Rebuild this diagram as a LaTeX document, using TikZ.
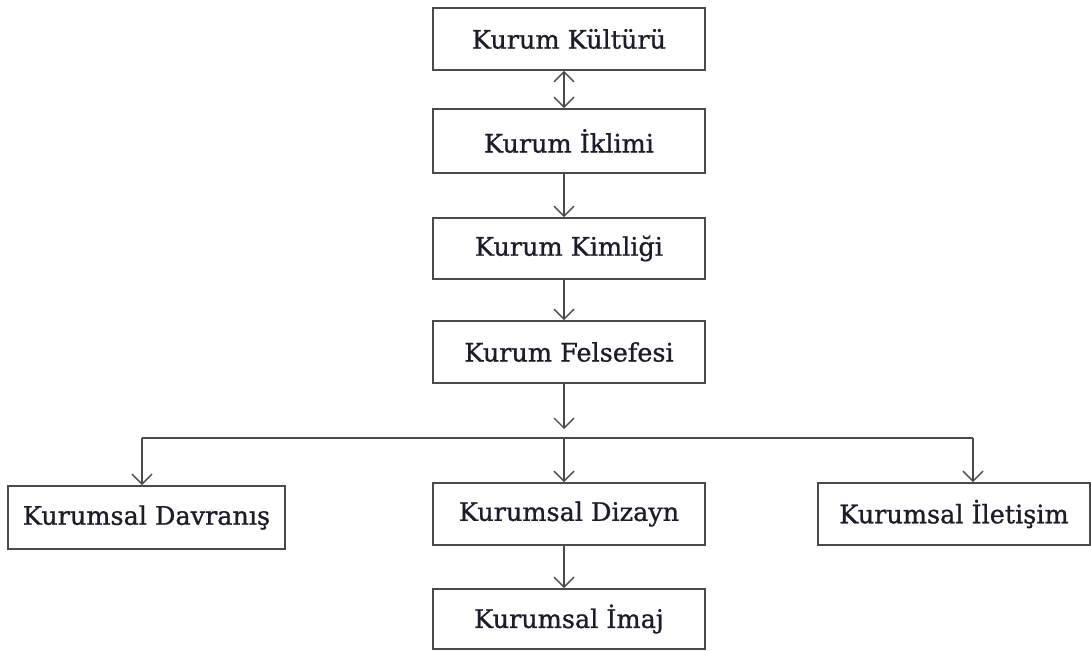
\documentclass[tikz,border=0pt]{standalone}
\usepackage{fontspec}
\setmainfont{DejaVu Serif}[FakeBold=0.9]
\usetikzlibrary{arrows.meta}
\definecolor{edge}{HTML}{4A4A4A}
\definecolor{ink}{HTML}{1C1C2A}
\tikzset{
  boxnode/.style={draw=edge, line width=1.6pt, fill=white, inner sep=0pt,
    minimum width=272pt, minimum height=62pt, text=ink,
    font=\fontsize{25.5}{29}\selectfont},
  link/.style={draw=edge, line width=1.6pt},
  tip/.style={-{Straight Barb[length=10pt,width=20pt,line width=1.4pt]}},
  twotips/.style={{Straight Barb[length=10pt,width=20pt,line width=1.4pt]}-{Straight Barb[length=10pt,width=20pt,line width=1.4pt]}}
}
\begin{document}
\begin{tikzpicture}[x=1pt,y=-1pt]
  \useasboundingbox (0,0) rectangle (1091,651);
  \fill[white] (0,0) rectangle (1091,651);

  % main column of boxes
  \node[boxnode] (kultur)   at (569,39)  {Kurum Kültürü};
  \node[boxnode, minimum height=64pt] (iklim) at (569,141) {Kurum İklimi};
  \node[boxnode, minimum height=61pt] (kimlik) at (569,248.5) {Kurum Kimliği};
  \node[boxnode] (felsefe)  at (569,352)  {Kurum Felsefesi};

  % three branches
  \node[boxnode, minimum width=277pt, minimum height=63pt] (davranis) at (146.5,517.5) {Kurumsal Davranış};
  \node[boxnode] (dizayn)   at (569,514)  {Kurumsal Dizayn};
  \node[boxnode] (iletisim) at (954,514)  {Kurumsal İletişim};
  \node[boxnode, minimum height=60pt] (imaj) at (569,619) {Kurumsal İmaj};

  % helper points for the connectors
  \coordinate (col)     at (564,0);
  \coordinate (stemEnd) at (564,429);
  \coordinate (barL)    at (142,438);
  \coordinate (barM)    at (564,438);
  \coordinate (barR)    at (973,438);

  % vertical links
  \draw[link, twotips] (kultur.south -| col) -- (iklim.north -| col);
  \draw[link, tip] (iklim.south -| col) -- (kimlik.north -| col);
  \draw[link, tip] (kimlik.south -| col) -- (felsefe.north -| col);
  \draw[link, tip] (felsefe.south -| col) -- (stemEnd);

  % distribution bar
  \draw[link] (barL) -- (barR);
  \draw[link, tip] (barL) -- (davranis.north -| barL);
  \draw[link, tip] (barM) -- (dizayn.north -| barM);
  \draw[link, tip] (barR) -- (iletisim.north -| barR);

  \draw[link, tip] (dizayn.south -| col) -- (imaj.north -| col);
\end{tikzpicture}
\end{document}
